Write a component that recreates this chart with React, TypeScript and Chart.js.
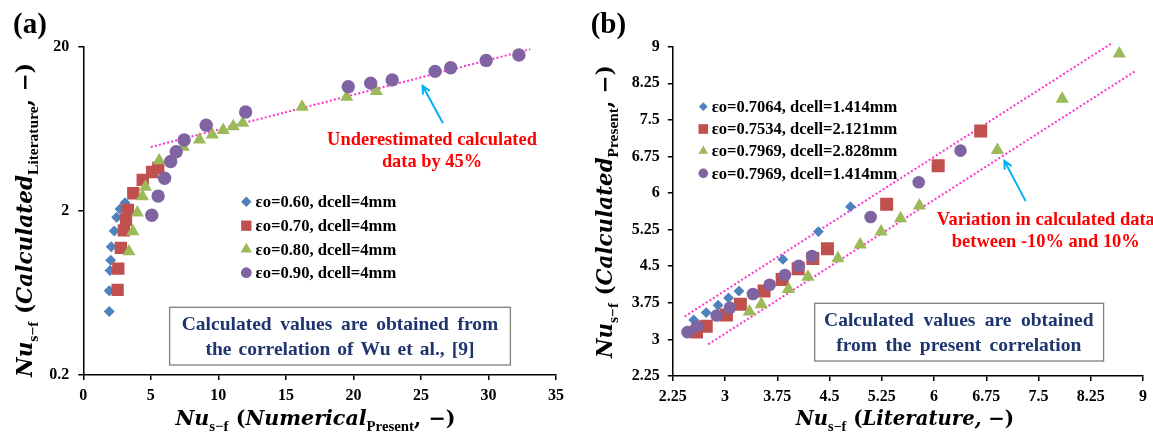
import React, { useEffect, useRef } from 'react';
import { Chart, registerables } from 'chart.js';

Chart.register(...registerables);

// ---------------- Panel (a) data ----------------
const aXTicks = [0, 5, 10, 15, 20, 25, 30, 35];
const aXTickLabels = ['0', '5', '10', '15', '20', '25', '30', '35'];
const aYTicks = [0.2, 2, 20];
const aYTickLabels = ['0.2', '2', '20'];
const aSeriesLabels = ['εo=0.60, dcell=4mm', 'εo=0.70, dcell=4mm', 'εo=0.80, dcell=4mm', 'εo=0.90, dcell=4mm'];
const a060X = [1.92, 1.92, 1.98, 2.03, 2.07, 2.29, 2.47, 2.72, 3.09];
const a060Y = [0.487, 0.653, 0.865, 1.0, 1.21, 1.51, 1.83, 2.05, 2.24];
const a070X = [2.54, 2.59, 2.78, 3.0, 3.16, 3.3, 3.7, 4.4, 5.1, 5.55];
const a070Y = [0.66, 0.89, 1.19, 1.52, 1.76, 2.03, 2.56, 3.09, 3.45, 3.65];
const a080X = [3.38, 3.67, 4.0, 4.38, 4.6, 5.62, 7.4, 8.6, 9.55, 10.36, 11.1, 11.8, 16.2, 19.5, 21.7];
const a080Y = [1.13, 1.5, 1.95, 2.45, 2.8, 4.05, 4.9, 5.42, 5.81, 6.2, 6.54, 6.86, 8.6, 9.9, 10.7];
const a090X = [5.07, 5.54, 6.02, 6.47, 6.88, 7.47, 9.1, 12.02, 19.62, 21.28, 22.87, 26.05, 27.2, 29.83, 32.25];
const a090Y = [1.88, 2.46, 3.16, 4.0, 4.58, 5.4, 6.65, 8.0, 11.4, 12.0, 12.55, 14.15, 14.9, 16.5, 17.8];
const aTrendX = [5.0, 33.1];
const aTrendY = [4.9, 19.3];
const aArrowX = [26.6, 25.12];
const aArrowY = [6.91, 11.57];
const aNoteLines = ['Underestimated calculated', 'data by 45%'];
const aBoxLines = ['Calculated values are obtained from', 'the correlation of Wu et al., [9]'];

// ---------------- Panel (b) data ----------------
const bTicks = [2.25, 3, 3.75, 4.5, 5.25, 6, 6.75, 7.5, 8.25, 9];
const bTickLabels = ['2.25', '3', '3.75', '4.5', '5.25', '6', '6.75', '7.5', '8.25', '9'];
const bSeriesLabels = ['εo=0.7064, dcell=1.414mm', 'εo=0.7534, dcell=2.121mm', 'εo=0.7969, dcell=2.828mm', 'εo=0.7969, dcell=1.414mm'];
const b1X = [2.55, 2.73, 2.9, 3.05, 3.2, 3.83, 4.34, 4.8];
const b1Y = [3.4, 3.55, 3.7, 3.85, 3.99, 4.64, 5.21, 5.72];
const b2X = [2.59, 2.73, 3.02, 3.22, 3.56, 3.82, 4.05, 4.26, 4.47, 5.32, 6.06, 6.67];
const b2Y = [3.15, 3.27, 3.5, 3.72, 3.99, 4.23, 4.45, 4.66, 4.86, 5.77, 6.56, 7.27];
const b3X = [3.35, 3.52, 3.91, 4.19, 4.62, 4.94, 5.24, 5.52, 5.79, 6.91, 7.84, 8.66];
const b3Y = [3.57, 3.72, 4.03, 4.28, 4.66, 4.94, 5.21, 5.48, 5.74, 6.88, 7.93, 8.86];
const b4X = [2.46, 2.6, 2.88, 3.07, 3.4, 3.64, 3.86, 4.06, 4.25, 5.09, 5.78, 6.38];
const b4Y = [3.15, 3.27, 3.49, 3.65, 3.93, 4.12, 4.32, 4.51, 4.71, 5.51, 6.22, 6.87];
const bUpperX = [2.42, 8.55];
const bUpperY = [3.47, 9.07];
const bLowerX = [2.76, 8.89];
const bLowerY = [2.9, 8.5];
const bArrowX = [7.31, 7.01];
const bArrowY = [5.85, 6.66];
const bNoteLines = ['Variation in calculated data', 'between -10% and 10%'];
const bBoxLines = ['Calculated values are obtained', 'from the present correlation'];

// ---------------- styles ----------------
const BLUE = '#4F81BD';
const RED = '#C0504D';
const GREEN = '#9BBB59';
const PURPLE = '#8064A2';
const PINK = '#FF33CC';
const CYAN = '#00B0F0';
const NAVY = '#1F356E';
const SERIF = "'Liberation Serif', 'Times New Roman', serif";
const MATH = "'DejaVu Serif', serif";
const STYLES = ['rectRot', 'rect', 'triangle', 'circle'];
const COLORS = [BLUE, RED, GREEN, PURPLE];

type Seg = { t: string; i?: boolean; sub?: boolean };
const aXTitle: Seg[] = [{ t: 'Nu', i: true }, { t: 's−f', sub: true }, { t: ' (' }, { t: 'Numerical', i: true }, { t: 'Present', sub: true }, { t: ', −)' }];
const aYTitle: Seg[] = [{ t: 'Nu', i: true }, { t: 's−f', sub: true }, { t: ' (' }, { t: 'Calculated', i: true }, { t: 'Literature', sub: true }, { t: ', −)' }];
const bXTitle: Seg[] = [{ t: 'Nu', i: true }, { t: 's−f', sub: true }, { t: ' (' }, { t: 'Literature,', i: true }, { t: ' −)' }];
const bYTitle: Seg[] = [{ t: 'Nu', i: true }, { t: 's−f', sub: true }, { t: ' (' }, { t: 'Calculated', i: true }, { t: 'Present', sub: true }, { t: ', −)' }];

const zip = (xs: number[], ys: number[]) => xs.map((x, i) => ({ x, y: ys[i] }));

function drawMarker(ctx: CanvasRenderingContext2D, style: string, x: number, y: number, r: number, color: string) {
  ctx.save();
  ctx.fillStyle = color;
  ctx.beginPath();
  if (style === 'circle') ctx.arc(x, y, r, 0, Math.PI * 2);
  else if (style === 'rect') {
    const s = r * Math.SQRT1_2;
    ctx.rect(x - s, y - s, 2 * s, 2 * s);
  } else if (style === 'rectRot') {
    ctx.moveTo(x - r, y); ctx.lineTo(x, y - r); ctx.lineTo(x + r, y); ctx.lineTo(x, y + r); ctx.closePath();
  } else {
    ctx.moveTo(x, y - r); ctx.lineTo(x + r * 0.866, y + r / 2); ctx.lineTo(x - r * 0.866, y + r / 2); ctx.closePath();
  }
  ctx.fill();
  ctx.restore();
}

function segFont(s: Seg, size: number) {
  if (s.sub) return `bold ${size * 0.72}px ${SERIF}`;
  return `${s.i ? 'italic ' : ''}bold ${size}px ${MATH}`;
}

function drawRich(ctx: CanvasRenderingContext2D, segs: Seg[], cx: number, base: number, target: number, rotate: boolean) {
  const widthAt = (size: number) => segs.reduce((w, s) => { ctx.font = segFont(s, size); return w + ctx.measureText(s.t).width; }, 0);
  const size = 20 * target / widthAt(20);
  ctx.save();
  ctx.fillStyle = '#000';
  ctx.textAlign = 'left';
  ctx.textBaseline = 'alphabetic';
  if (rotate) { ctx.translate(base, cx); ctx.rotate(-Math.PI / 2); } else { ctx.translate(cx, base); }
  let x = -target / 2;
  for (const s of segs) {
    ctx.font = segFont(s, size);
    ctx.fillText(s.t, x, s.sub ? size * 0.28 : 0);
    x += ctx.measureText(s.t).width;
  }
  ctx.restore();
}

function fitSize(ctx: CanvasRenderingContext2D, text: string, width: number, family: string) {
  ctx.font = `bold 20px ${family}`;
  return 20 * width / ctx.measureText(text).width;
}

function drawJustified(ctx: CanvasRenderingContext2D, text: string, cx: number, cy: number, width: number) {
  const words = text.split(' ');
  const ws = words.map((w) => ctx.measureText(w).width);
  const total = ws.reduce((a, b) => a + b, 0);
  const gap = words.length > 1 ? (width - total) / (words.length - 1) : 0;
  let x = cx - width / 2;
  words.forEach((w, i) => { ctx.fillText(w, x, cy); x += ws[i] + gap; });
}

type Overlay = {
  panel: string; panelX: number; panelY: number;
  legendLabels: string[]; legendRows: number[]; legendMarkerX: number; legendTextX: number; legendWidth: number; legendSizes: number[];
  box: number[]; boxLines: string[]; boxCx: number; boxRows: number[]; boxWidths: number[]; boxFont: number;
  noteLines: string[]; noteCx: number; noteRows: number[]; noteFitIdx: number; noteWidth: number;
  arrowX: number[]; arrowY: number[];
  xTitle: Seg[]; xTitleCx: number; xTitleBase: number; xTitleW: number;
  yTitle: Seg[]; yTitleCy: number; yTitleBase: number; yTitleW: number;
};

function overlayPlugin(o: Overlay) {
  return {
    id: 'overlay' + o.panel,
    afterDraw(chart: any) {
      const ctx: CanvasRenderingContext2D = chart.ctx;
      const xs = chart.scales.x;
      const ys = chart.scales.y;
      ctx.save();
      // panel label
      ctx.fillStyle = '#000';
      ctx.font = `bold 29px ${SERIF}`;
      ctx.textAlign = 'center';
      ctx.textBaseline = 'middle';
      ctx.fillText(o.panel, o.panelX, o.panelY);
      // legend
      const ls = fitSize(ctx, o.legendLabels[0], o.legendWidth, SERIF);
      ctx.font = `bold ${ls}px ${SERIF}`;
      ctx.textAlign = 'left';
      o.legendLabels.forEach((lab, i) => {
        drawMarker(ctx, STYLES[i], o.legendMarkerX, o.legendRows[i], o.legendSizes[i], COLORS[i]);
        ctx.fillStyle = '#000';
        ctx.fillText(lab, o.legendTextX, o.legendRows[i] + 1);
      });
      // info box
      ctx.fillStyle = '#fff';
      ctx.fillRect(o.box[0], o.box[1], o.box[2], o.box[3]);
      ctx.strokeStyle = '#7F7F7F';
      ctx.lineWidth = 1.3;
      ctx.strokeRect(o.box[0], o.box[1], o.box[2], o.box[3]);
      ctx.fillStyle = NAVY;
      ctx.font = `bold ${o.boxFont}px ${SERIF}`;
      o.boxLines.forEach((ln, i) => drawJustified(ctx, ln, o.boxCx, o.boxRows[i], o.boxWidths[i]));
      // red note
      const ns = fitSize(ctx, o.noteLines[o.noteFitIdx], o.noteWidth, SERIF);
      ctx.font = `bold ${ns}px ${SERIF}`;
      ctx.fillStyle = '#FF0000';
      ctx.textAlign = 'center';
      o.noteLines.forEach((ln, i) => ctx.fillText(ln, o.noteCx, o.noteRows[i]));
      // arrow
      const x0 = xs.getPixelForValue(o.arrowX[0]);
      const y0 = ys.getPixelForValue(o.arrowY[0]);
      const x1 = xs.getPixelForValue(o.arrowX[1]);
      const y1 = ys.getPixelForValue(o.arrowY[1]);
      const ang = Math.atan2(y1 - y0, x1 - x0);
      ctx.strokeStyle = CYAN;
      ctx.lineWidth = 2;
      ctx.lineCap = 'round';
      ctx.beginPath();
      ctx.moveTo(x0, y0); ctx.lineTo(x1, y1);
      ctx.moveTo(x1 - 8 * Math.cos(ang - 0.45), y1 - 8 * Math.sin(ang - 0.45));
      ctx.lineTo(x1, y1);
      ctx.lineTo(x1 - 8 * Math.cos(ang + 0.45), y1 - 8 * Math.sin(ang + 0.45));
      ctx.stroke();
      ctx.restore();
      // axis titles
      drawRich(ctx, o.xTitle, o.xTitleCx, o.xTitleBase, o.xTitleW, false);
      drawRich(ctx, o.yTitle, o.yTitleCy, o.yTitleBase, o.yTitleW, true);
    },
  };
}

const TICK_FONT = { family: SERIF, size: 16, weight: 'bold' as const };

function axis(type: string, min: number, max: number, ticks: number[], labels: string[], fit: (s: any) => void, pad: number) {
  return {
    type, min, max,
    afterBuildTicks: (s: any) => { s.ticks = ticks.map((v) => ({ value: v })); },
    afterFit: fit,
    ticks: {
      callback: (_v: any, i: number) => labels[i],
      font: TICK_FONT, color: '#000', padding: pad, maxRotation: 0, autoSkip: false,
    },
    grid: { drawOnChartArea: false, drawTicks: true, tickLength: 5, color: '#000', lineWidth: 1.5 },
    border: { display: true, color: '#000', width: 1.5 },
  };
}

function scatterSet(label: string, xs: number[], ys: number[], idx: number, r: number) {
  return {
    label, data: zip(xs, ys), pointStyle: STYLES[idx], pointRadius: r, pointHoverRadius: r,
    backgroundColor: COLORS[idx], borderColor: COLORS[idx], borderWidth: 0, showLine: false, order: 4 - idx,
  };
}

function lineSet(xs: number[], ys: number[]) {
  return {
    label: 'band', data: zip(xs, ys), showLine: true, borderColor: PINK, borderWidth: 2, borderDash: [2, 2.2],
    pointRadius: 0, fill: false, order: 10, clip: false,
  };
}

function leftConfig(): any {
  return {
    type: 'scatter',
    data: {
      datasets: [
        scatterSet(aSeriesLabels[0], a060X, a060Y, 0, 5.5),
        scatterSet(aSeriesLabels[1], a070X, a070Y, 1, 8.7),
        scatterSet(aSeriesLabels[2], a080X, a080Y, 2, 7.6),
        scatterSet(aSeriesLabels[3], a090X, a090Y, 3, 6.7),
        lineSet(aTrendX, aTrendY),
      ],
    },
    options: {
      animation: false, responsive: false, maintainAspectRatio: false,
      layout: { padding: { left: 0, right: 580 - 556, top: 46.7, bottom: 0 } },
      plugins: { legend: { display: false }, tooltip: { enabled: false } },
      scales: {
        x: axis('linear', 0, 35, aXTicks, aXTickLabels, (s: any) => { s.height = 435 - 375; }, 6),
        y: axis('logarithmic', 0.2, 20, aYTicks, aYTickLabels, (s: any) => { s.width = 83.3; }, 9),
      },
    },
    plugins: [overlayPlugin({
      panel: '(a)', panelX: 30, panelY: 26,
      legendLabels: aSeriesLabels, legendRows: [201.7, 225.7, 249.3, 272.7], legendMarkerX: 246.3, legendTextX: 255.6, legendWidth: 140.7, legendSizes: [5.2, 7.3, 6.6, 5.4],
      box: [169.6, 307.3, 340.8, 57.7], boxLines: aBoxLines, boxCx: 340, boxRows: [325, 350], boxWidths: [316.5, 269], boxFont: 19.5,
      noteLines: aNoteLines, noteCx: 432, noteRows: [140, 162.5], noteFitIdx: 0, noteWidth: 210,
      arrowX: aArrowX, arrowY: aArrowY,
      xTitle: aXTitle, xTitleCx: 315.5, xTitleBase: 425, xTitleW: 280,
      yTitle: aYTitle, yTitleCy: 220, yTitleBase: 32, yTitleW: 314,
    })],
  };
}

function rightConfig(): any {
  return {
    type: 'scatter',
    data: {
      datasets: [
        scatterSet(bSeriesLabels[0], b1X, b1Y, 0, 5.4),
        scatterSet(bSeriesLabels[1], b2X, b2Y, 1, 9.2),
        scatterSet(bSeriesLabels[2], b3X, b3Y, 2, 7.7),
        scatterSet(bSeriesLabels[3], b4X, b4Y, 3, 6.3),
        lineSet(bUpperX, bUpperY),
        lineSet(bLowerX, bLowerY),
      ],
    },
    options: {
      animation: false, responsive: false, maintainAspectRatio: false,
      layout: { padding: { left: 0, right: 573 - 563.9, top: 46.7, bottom: 0 } },
      plugins: { legend: { display: false }, tooltip: { enabled: false } },
      scales: {
        x: axis('linear', 2.25, 9, bTicks, bTickLabels, (s: any) => { s.height = 435 - 376; }, 6),
        y: axis('linear', 2.25, 9, bTicks, bTickLabels, (s: any) => { s.width = 92.8; }, 8),
      },
    },
    plugins: [overlayPlugin({
      panel: '(b)', panelX: 28.4, panelY: 26,
      legendLabels: bSeriesLabels, legendRows: [106.7, 129, 151, 173.3], legendMarkerX: 123.3, legendTextX: 131.7, legendWidth: 185.6, legendSizes: [4.4, 6.8, 5.6, 4.8],
      box: [234.7, 303.3, 288.9, 57.7], boxLines: bBoxLines, boxCx: 378.8, boxRows: [320.7, 345.7], boxWidths: [269.5, 245], boxFont: 19.5,
      noteLines: bNoteLines, noteCx: 465.8, noteRows: [220.7, 242.7], noteFitIdx: 1, noteWidth: 188,
      arrowX: bArrowX, arrowY: bArrowY,
      xTitle: bXTitle, xTitleCx: 325, xTitleBase: 425, xTitleW: 218.5,
      yTitle: bYTitle, yTitleCy: 211.5, yTitleBase: 32, yTitleW: 293,
    })],
  };
}

export default function App() {
  const leftRef = useRef<HTMLCanvasElement>(null);
  const rightRef = useRef<HTMLCanvasElement>(null);
  useEffect(() => {
    const c1 = new Chart(leftRef.current as HTMLCanvasElement, leftConfig());
    const c2 = new Chart(rightRef.current as HTMLCanvasElement, rightConfig());
    return () => { c1.destroy(); c2.destroy(); };
  }, []);
  return (
    <div style={{ position: 'absolute', left: 0, top: 0, width: 1153, height: 435, background: '#fff', overflow: 'hidden' }}>
      <canvas ref={leftRef} width={580} height={435} style={{ position: 'absolute', left: 0, top: 0, width: 580, height: 435 }} />
      <canvas ref={rightRef} width={573} height={435} style={{ position: 'absolute', left: 580, top: 0, width: 573, height: 435 }} />
    </div>
  );
}
